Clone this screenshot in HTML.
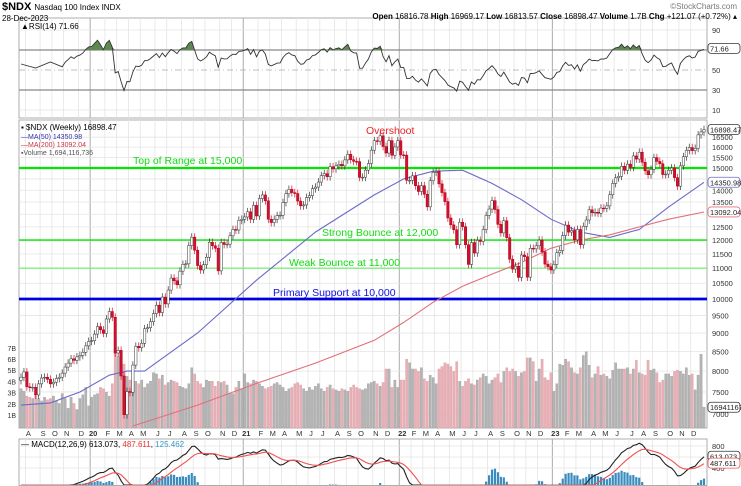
<!DOCTYPE html>
<html><head><meta charset="utf-8">
<style>
html,body{margin:0;background:#fff;width:741px;height:486px;overflow:hidden;font-family:"Liberation Sans",sans-serif}
svg{display:block;overflow:hidden}
text{font-family:"Liberation Sans",sans-serif}
</style></head>
<body>
<svg id="chart" width="741" height="486" viewBox="0 0 741 486" xmlns="http://www.w3.org/2000/svg">
<g id="grid"></g>
<g id="vol"></g>
<g id="levels"></g>
<g id="mas"></g>
<g id="candles"></g>
<g id="rsi"></g>
<g id="macd"></g>
<g id="axes"></g>
<g font-size="8.5">
<text x="2" y="10" font-size="11" font-weight="bold">$NDX <tspan font-size="8" font-weight="normal">Nasdaq 100 Index INDX</tspan></text>
<text x="2" y="21" font-size="8">28-Dec-2023</text>
<text x="737" y="9" font-size="8" fill="#777" text-anchor="end">©StockCharts.com</text>
<text x="737" y="19" font-size="8" text-anchor="end"><tspan font-weight="bold">Open</tspan> 16816.78 <tspan font-weight="bold">High</tspan> 16969.17 <tspan font-weight="bold">Low</tspan> 16813.57 <tspan font-weight="bold">Close</tspan> 16898.47 <tspan font-weight="bold">Volume</tspan> 1.7B <tspan font-weight="bold">Chg</tspan> +121.07 (+0.72%) ▴</text>
<text x="21" y="29" font-size="8">▲RSI(14) 71.66</text>
<text x="21" y="130" font-size="8">▪ $NDX (Weekly) 16898.47</text>
<text x="21" y="139" font-size="7" fill="#3333aa">—MA(50) 14350.98</text>
<text x="21" y="147" font-size="7" fill="#cc3344">—MA(200) 13092.04</text>
<text x="21" y="155" font-size="7" fill="#555">▪Volume 1,694,116,736</text>
<text x="21" y="447" font-size="8">— MACD(12,26,9) 613.073, <tspan fill="#e33">487.611</tspan>, <tspan fill="#39c">125.462</tspan></text>
</g>
<g font-size="10.5">
<text x="133" y="164" fill="#11dd11">Top of Range at 15,000</text>
<text x="366" y="134" fill="#ee2222">Overshoot</text>
<text x="322" y="236" fill="#11dd11">Strong Bounce at 12,000</text>
<text x="289" y="266" fill="#11dd11">Weak Bounce at 11,000</text>
<text x="273" y="296" fill="#1111dd">Primary Support at 10,000</text>
</g>
</svg>
<script>
const closes=[7850,7980,7620,7600,7610,7430,7690,7830,7850,7800,7690,7730,7820,7850,7950,8100,8200,8310,8270,8360,8400,8480,8650,8770,
8790,8970,9180,9090,8990,9400,9620,9450,8460,8530,7880,6990,7510,7490,8150,8640,8600,8720,9120,9150,9320,9560,9810,9590,10060,9850,10280,10670,10580,10450,10900,11130,11150,11800,12110,11630,11090,10940,11120,11380,11920,11790,11700,10910,11910,11840,11850,12160,12400,12380,12760,12800,
12890,13100,12800,13360,12930,13650,13800,13550,12800,12670,12800,12940,12960,13480,13850,14040,13900,13860,13540,13340,13380,13690,13770,14070,14140,14360,14650,14740,14600,15060,14960,15100,15170,15100,15380,15650,15390,15310,15300,14570,14580,14900,15210,15850,16320,16300,16570,16030,15710,16330,15600,16010,16320,
15620,15610,14440,14440,14640,14200,13950,14200,13830,13300,14420,14800,14840,14280,13900,13520,12850,12580,12390,11830,12680,12510,11830,11130,11910,11530,11990,11950,12400,12950,13210,13560,13190,12600,12270,12740,12090,11310,10970,11070,10690,11460,11400,10700,11700,11680,11790,12000,11570,11140,11050,10940,
11130,11540,11620,12170,12570,12300,12360,12010,12400,11830,12520,12770,13180,13060,13080,13040,13250,13240,13340,13810,14300,14550,14620,15080,14890,15180,15030,15570,15420,15750,15270,14870,14690,14940,15490,15310,15200,14700,14720,14890,15000,14560,14180,15100,15530,15840,15980,15830,15940,16620,16770,16898];
const volumes=[3.2,3.0,2.6,2.5,2.4,2.6,2.4,2.2,2.5,2.3,2.4,2.6,2.2,2.0,2.8,2.4,1.6,2.5,2.0,1.5,2.4,2.7,3.3,1.8,
2.5,2.7,2.8,3.3,3.2,2.9,2.6,3.6,6.3,5.8,6.0,5.2,4.2,3.9,3.2,3.8,3.6,3.9,3.3,3.6,3.8,4.5,4.4,4.0,4.3,3.5,3.7,3.9,3.8,3.7,3.4,3.3,3.2,3.6,4.9,4.4,3.8,3.6,3.3,3.9,3.8,3.8,3.4,3.8,3.7,3.8,3.5,2.8,2.8,3.3,3.8,3.2,
4.4,3.7,3.6,3.9,3.8,3.6,3.4,3.2,3.3,3.4,3.6,3.7,3.5,3.3,3.0,3.2,3.3,3.6,3.7,3.5,3.2,3.0,3.3,3.1,3.4,3.6,3.2,3.0,3.3,3.5,3.2,3.1,3.0,3.2,3.1,3.0,3.3,3.5,3.3,3.2,3.1,3.2,3.6,3.7,3.8,3.6,3.4,3.7,4.8,4.8,3.3,3.9,3.3,
3.9,3.9,5.6,5.3,4.8,4.8,4.6,4.9,4.0,3.8,4.3,4.1,3.6,4.8,5.0,5.3,5.2,5.0,4.6,5.4,3.8,3.4,3.8,4.0,3.6,3.5,3.9,4.1,4.4,4.2,3.6,3.9,4.1,4.4,3.7,4.6,4.9,4.6,4.8,4.6,4.2,4.5,4.6,5.7,5.7,5.4,3.8,4.8,5.6,4.1,3.9,4.5,
3.0,3.6,5.2,5.1,5.6,5.4,4.9,4.5,4.4,4.9,5.9,6.2,5.1,4.1,4.4,5.0,4.3,4.4,4.2,4.0,4.7,5.3,4.8,4.8,4.8,4.9,4.4,4.8,5.5,4.5,4.4,4.3,5.5,4.7,4.8,4.5,3.7,3.9,4.4,4.4,4.2,4.6,4.7,4.6,4.4,4.9,4.3,4.4,3.1,4.3,6.0,1.7];
const ma50Weeks=[0,10,20,30,36,42,60,80,100,120,130,140,150,160,170,180,190,200,210,220,232];
const ma50Vals=[7200,7250,7500,7900,8000,8000,9000,10600,12300,13800,14500,14850,14900,14300,13600,12800,12300,12100,12400,13300,14351];
const ma200Weeks=[38,60,80,100,120,130,140,150,160,170,180,190,200,210,220,232];
const ma200Vals=[6750,7200,7700,8200,8800,9300,9900,10400,10800,11200,11700,12000,12200,12500,12800,13092];
const levels=[15000,12000,11000,10000];
const priceTicks=[7000,7500,8000,8500,9000,9500,10000,10500,11000,11500,12000,12500,13000,13500,14000,14500,15000,15500,16000,16500];
const rsiTicks=[90,70,50,30,10];
const volTicks=[1,2,3,4,5,6,7];
const macdTicks=[800,600,400];

const NS="http://www.w3.org/2000/svg";
const L=19,R=707,N=closes.length;
const xOf=i=>21+i*(704-21)/(N-1);
const yP=p=>299-323.1*Math.log(p/10000);
const yV=v=>428-v*12.3;
const yR=r=>120-r;
const yM=m=>468-(m-400)*0.055;
function el(tag,attrs,parent){const e=document.createElementNS(NS,tag);for(const k in attrs)e.setAttribute(k,attrs[k]);parent.appendChild(e);return e;}
const $=id=>document.getElementById(id);

const grid=$('grid');
[[18,118],[120,428],[439,485.5]].forEach(([t,b])=>{
  const r=el('rect',{x:L,y:t,width:R-L,height:b-t,fill:'#fff',stroke:'#999','stroke-width':0.8},grid);
  
  
});
const start=new Date(2019,6,19);
const mLetters='JFMAMJJASOND';
let prevM=-1;
for(let i=0;i<N;i++){
  const d=new Date(start.getTime()+i*7*86400000);
  const m=d.getMonth();
  if(m!==prevM&&i>0){
    const x=xOf(i)-1.5;
    const isYear=m===0;
    [[18,118],[120,428],[439,485]].forEach(([t,b])=>{
      const ln=el('line',{x1:x,x2:x,y1:t,y2:b,stroke:isYear?'#aaa':'#e4e4e4','stroke-width':isYear?1:0.8},grid);
      
      
    });
    const tx=el('text',{x:x+3,y:436,'font-size':7.5,'text-anchor':'middle','font-weight':isYear?'bold':'normal',fill:'#333'},$('axes'));
    tx.textContent=isYear?String(d.getFullYear()).slice(2):mLetters[m];
    
    
  }
  prevM=m;
}
priceTicks.forEach(p=>{
  const y=yP(p);
  const ln=el('line',{x1:L,x2:R,y1:y,y2:y,stroke:'#e4e4e4','stroke-width':0.8},grid);
  
  
  const t=el('text',{x:712,y:y+3,'font-size':7.5,fill:'#333'},$('axes'));
  t.textContent=p;
  
  
});
volTicks.forEach(v=>{
  const t=el('text',{x:16,y:418-(v-1)*11.2,'font-size':7,'text-anchor':'end',fill:'#333'},$('axes'));
  t.textContent=v+'B';
  
  
});
rsiTicks.forEach(r=>{
  const y=yR(r);
  const solid=(r===70||r===30);
  const ln=el('line',{x1:L,x2:R,y1:y,y2:y,stroke:solid?'#888':(r===50?'#aaa':'#e4e4e4'),'stroke-width':solid?1.2:0.8,'stroke-dasharray':r===50?'6,3,1,3':'none'},grid);
  
  
  if(r!==70){
    const t=el('text',{x:712,y:y+3,'font-size':7.5,fill:'#333'},$('axes'));
    t.textContent=r;
    
    
  }
});
macdTicks.forEach(m=>{
  const y=yM(m);
  const ln=el('line',{x1:L,x2:R,y1:y,y2:y,stroke:'#e4e4e4','stroke-width':0.8},grid);
  
  
  if(m!==600){
    const t=el('text',{x:712,y:y+3,'font-size':7.5,fill:'#333'},$('axes'));
    t.textContent=m;
    
    
  }
});

const defs=el('defs',{},$('chart'));
const cp=el('clipPath',{id:'pc'},defs);el('rect',{x:L,y:120,width:R-L,height:308},cp);
const cr=el('clipPath',{id:'rc'},defs);el('rect',{x:L,y:18,width:R-L,height:100},cr);
const cm=el('clipPath',{id:'mc'},defs);el('rect',{x:L,y:439,width:R-L,height:46},cm);
['vol','levels','mas','candles'].forEach(id=>$(id).setAttribute('clip-path','url(#pc)'));
$('rsi').setAttribute('clip-path','url(#rc)');$('macd').setAttribute('clip-path','url(#mc)');

const bw=2.3;
for(let i=0;i<N;i++){
  const down=i>0&&closes[i]<closes[i-1];
  const b=el('rect',{x:xOf(i)-bw/2,y:yV(volumes[i]),width:bw,height:428-yV(volumes[i]),fill:down?'#e8b0b6':'#b4b4b4',stroke:down?'#d89aa2':'#9a9a9a','stroke-width':0.3},$('vol'));
  
  
}
const lvStyle={15000:['#00e600',2.2],12000:['#22e622',1.6],11000:['#66ee66',1.2],10000:['#0000dd',2.8]};
levels.forEach(p=>{
  const y=yP(p);
  const ln=el('line',{x1:L,x2:R,y1:y,y2:y,stroke:lvStyle[p][0],'stroke-width':lvStyle[p][1]},$('levels'));
  
  
});
function poly(weeks,vals,color,name){
  const pts=weeks.map((w,k)=>xOf(w).toFixed(1)+','+yP(vals[k]).toFixed(1)).join(' ');
  const p=el('polyline',{points:pts,fill:'none',stroke:color,'stroke-width':1.1},$('mas'));
  
  
}
poly(ma50Weeks,ma50Vals,'#6a6ac8','ma50-line');
poly(ma200Weeks,ma200Vals,'#e0707a','ma200-line');
for(let i=0;i<N;i++){
  const c=closes[i],o=i>0?closes[i-1]:c*0.99;
  const hi=Math.max(o,c)*1.012,lo=Math.min(o,c)*0.988;
  const up=c>=o,x=xOf(i);
  const w=el('line',{x1:x,x2:x,y1:yP(hi),y2:yP(lo),stroke:up?'#333':'#d0103a','stroke-width':0.7},$('candles'));
  
  
  const yt=yP(Math.max(o,c)),yb=yP(Math.min(o,c));
  const r=el('rect',{x:x-1.2,y:yt,width:2.4,height:Math.max(0.8,yb-yt),fill:up?'#fff':'#d0103a',stroke:up?'#333':'#b00','stroke-width':0.5},$('candles'));
  
  
}
const rsiV=[];let ag=0,al=0;
for(let i=1;i<N;i++){
  const ch=closes[i]-closes[i-1],g=Math.max(ch,0),l=Math.max(-ch,0);
  if(i<=14){ag+=g/14;al+=l/14;}else{ag=(ag*13+g)/14;al=(al*13+l)/14;}
  rsiV.push(i<14?null:100-100/(1+ag/Math.max(al,1e-6)));
}
let rp=[];
rsiV.forEach((r,k)=>{if(r!==null)rp.push([xOf(k+1),yR(r)]);});
const pre=[[xOf(0),yR(56)],[xOf(5),yR(52)],[xOf(10),yR(58)]];
rp=pre.concat(rp.filter(p=>p[0]>xOf(10)));
let area='M'+rp.map(p=>p[0].toFixed(1)+','+Math.min(p[1],yR(70)).toFixed(1)).join(' L')+` L${rp[rp.length-1][0]},${yR(70)} L${rp[0][0]},${yR(70)} Z`;
const a=el('path',{d:area,fill:'#5e8a52'},$('rsi'));


const rl=el('polyline',{points:rp.map(p=>p[0].toFixed(1)+','+p[1].toFixed(1)).join(' '),fill:'none',stroke:'#333','stroke-width':0.9},$('rsi'));


function ema(arr,n){const k=2/(n+1);const out=[];let e=arr[0];arr.forEach(v=>{e=v*k+e*(1-k);out.push(e);});return out;}
const e12=ema(closes,12),e26=ema(closes,26);
const macdV=e12.map((v,i)=>v-e26[i]);
const sig=ema(macdV,9);
for(let i=0;i<N;i++){
  const h=macdV[i]-sig[i];
  const top=490-h*0.09;
  if(h>0&&top<485){
    const b=el('rect',{x:xOf(i)-1.1,y:top,width:2.2,height:485-top,fill:'#3a8cc0'},$('macd'));
    
    
  }
}
const ml=el('polyline',{points:macdV.map((v,i)=>xOf(i).toFixed(1)+','+Math.min(485,yM(v)).toFixed(1)).join(' '),fill:'none',stroke:'#222','stroke-width':1.1},$('macd'));


const sl=el('polyline',{points:sig.map((v,i)=>xOf(i).toFixed(1)+','+Math.min(485,yM(v)).toFixed(1)).join(' '),fill:'none',stroke:'#f05050','stroke-width':1.1},$('macd'));



function tag(y,txt,color,name){
  const r=el('rect',{x:708,y:y-5,width:32,height:10,rx:3,fill:'#fff',stroke:color,'stroke-width':0.8},$('axes'));
  
  
  const t=el('text',{x:710,y:y+3,'font-size':7.5,fill:'#222'},$('axes'));
  t.textContent=txt;
  
  
}
tag(yR(71.66),'71.66','#333','rsi-value-tag');
tag(yP(16898),'16898.47','#333','price-value-tag');
tag(yP(14351),'14350.98','#6a6ac8','ma50-value-tag');
tag(yP(13092),'13092.04','#e0707a','ma200-value-tag');
tag(yV(1.69),'1694116736','#333','volume-value-tag');
tag(yM(613),'613.073','#333','macd-value-tag');
tag(yM(488),'487.611','#f05050','signal-value-tag');
</script>
</body></html>
